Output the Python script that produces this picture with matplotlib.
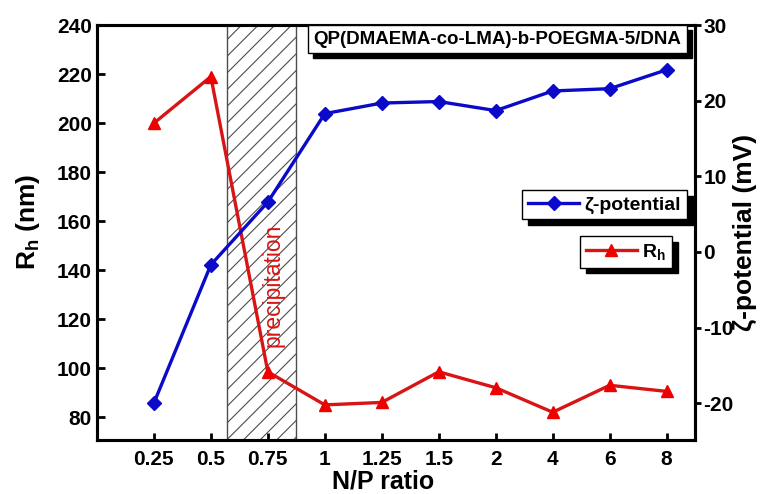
import matplotlib
matplotlib.use("Agg")
import matplotlib.pyplot as plt
from matplotlib.patches import Rectangle

plt.rcParams['font.family'] = ['Liberation Sans', 'DejaVu Sans']
plt.rcParams['font.weight'] = 'bold'
plt.rcParams['axes.labelweight'] = 'bold'
plt.rcParams['axes.unicode_minus'] = False
plt.rcParams['mathtext.fontset'] = 'custom'
plt.rcParams['mathtext.rm'] = 'Liberation Sans:bold'
plt.rcParams['mathtext.default'] = 'rm'
plt.rcParams['hatch.linewidth'] = 0.8

# N/P ratios (categorical) and measured series
np_ratio = ['0.25', '0.5', '0.75', '1', '1.25', '1.5', '2', '4', '6', '8']
rh_nm = [200, 219, 98.5, 85, 86, 98.5, 92, 82, 93, 90.5]
zeta_mv = [-20.0, -1.7, 6.6, 18.3, 19.7, 19.9, 18.7, 21.3, 21.6, 24.1]
precip_span = (1.28, 2.49)

BLUE = '#0a0ac8'
RED = '#d81414'

fig = plt.figure(figsize=(7.69, 4.94), dpi=100)
ax = fig.add_axes([0.126, 0.109, 0.778, 0.840])
ax2 = ax.twinx()

x = list(range(len(np_ratio)))

ax.axvspan(*precip_span, facecolor='white', edgecolor='0.3', hatch='//',
           linewidth=1.0, zorder=0)
ax.text(2.1, 134, 'precipitation', rotation=90,
        color=RED, fontsize=16.5, fontweight='normal', ha='center', va='center')

l_rh, = ax.plot(x, rh_nm, color=RED, lw=2.4, marker='^', ms=9,
                markerfacecolor='#ee0000', markeredgecolor='#ee0000',
                label=r'R$_\mathregular{h}$', zorder=3)
l_z, = ax2.plot(x, zeta_mv, color=BLUE, lw=2.4, marker='D', ms=7,
                markerfacecolor=BLUE, markeredgecolor=BLUE,
                label='ζ-potential', zorder=3)

ax.set_xlim(-1, 9.5)
ax.set_ylim(70.6, 240)
ax2.set_ylim(-24.9, 29.8)

ax.set_xticks(x)
ax.set_xticklabels(np_ratio)
ax.set_yticks(range(80, 241, 20))
ax2.set_yticks(range(-20, 31, 10))

for a in (ax, ax2):
    for s in a.spines.values():
        s.set_linewidth(2.2)
ax.tick_params(axis='y', direction='in', length=6, width=2, labelsize=15, pad=3.5)
ax.tick_params(axis='x', direction='in', length=5, width=2, labelsize=15, pad=7)
ax2.tick_params(axis='y', direction='out', length=4.5, width=2, labelsize=15, pad=1.5)

fig.text(383 / 769, 1 - 488 / 494, 'N/P ratio', fontsize=18,
         ha='center', va='baseline')
fig.text(28 / 769, 1 - 222 / 494, r'R$_\mathregular{h}$ (nm)', rotation=90,
         fontsize=19, ha='center', va='center')
fig.text(745 / 769, 1 - 232 / 494, 'ζ-potential (mV)', rotation=90,
         fontsize=19, ha='center', va='center')

# Sample name box with a hard drop shadow
bx0, bx1 = 308 / 769, 687 / 769
by0, by1 = 1 - 53 / 494, 1 - 25 / 494
sx, sy = 5 / 769, 5 / 494
fig.patches.append(Rectangle((bx0 + sx, by0 - sy), bx1 - bx0, by1 - by0,
                             transform=fig.transFigure, facecolor='black',
                             edgecolor='black', zorder=5))
fig.patches.append(Rectangle((bx0, by0), bx1 - bx0, by1 - by0,
                             transform=fig.transFigure, facecolor='white',
                             edgecolor='black', linewidth=1, zorder=6))
fig.text((bx0 + bx1) / 2, (by0 + by1) / 2, 'QP(DMAEMA-co-LMA)-b-POEGMA-5/DNA',
         fontsize=13.5, ha='center', va='center', zorder=7)

shadow = {'color': 'black', 'alpha': 1, 'ox': 4, 'oy': -4}
leg_z = ax2.legend(handles=[l_z], loc='upper right',
                   bbox_to_anchor=(687 / 769, 1 - 190 / 494),
                   bbox_transform=fig.transFigure, borderaxespad=0,
                   fancybox=False, shadow=shadow, framealpha=1,
                   edgecolor='black', fontsize=14, handlelength=2.6,
                   handletextpad=0.3, borderpad=0.3)
leg_z.get_frame().set_linewidth(1)
leg_r = ax.legend(handles=[l_rh], loc='upper right',
                  bbox_to_anchor=(672 / 769, 1 - 236 / 494),
                  bbox_transform=fig.transFigure, borderaxespad=0,
                  fancybox=False, shadow=shadow, framealpha=1,
                  edgecolor='black', fontsize=14, handlelength=2.6,
                  handletextpad=0.3, borderpad=0.3)
leg_r.get_frame().set_linewidth(1)

fig.savefig('out.png', dpi=100)
